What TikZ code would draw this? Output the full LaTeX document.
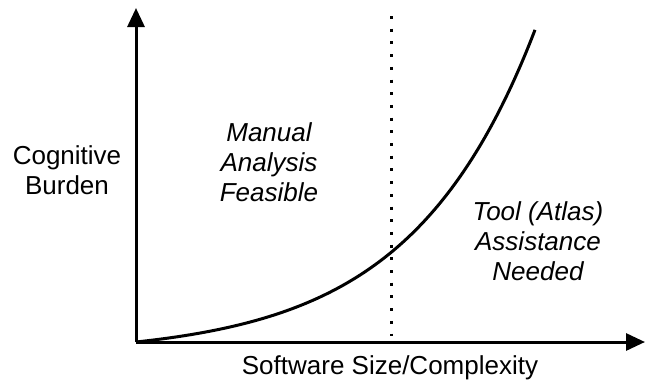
\documentclass[tikz,border=0pt]{standalone}
\usepackage{fontspec}
\setmainfont{Liberation Sans}
\usetikzlibrary{arrows.meta}
\begin{document}
\begin{tikzpicture}[x=1pt,y=-1pt,
  axis/.style={line width=3pt,-{Triangle[length=19pt,width=17pt]}},
  curveline/.style={line width=3pt},
  divider/.style={line width=3pt,dash pattern=on 3pt off 9.7pt},
  lbl/.style={font=\fontsize{26}{30}\selectfont,align=center,inner sep=0pt},
  ilbl/.style={lbl,font=\fontsize{26}{30}\selectfont\itshape}]
\useasboundingbox (0,0) rectangle (649,384);
\coordinate (O) at (136,342);
\coordinate (ytip) at (136,8);
\coordinate (xtip) at (645,342);
\coordinate (dtop) at (391,16);
\coordinate (dbot) at (391,336);
\draw[axis] (O) -- (ytip);
\draw[axis] (O) -- (xtip);
\draw[divider] (dtop) -- (dbot);
\draw[curveline] plot[domain=0:399,samples=120] ({136+\x},{342-13.4*(exp(0.008*\x)-1)});
\node[lbl] (ylabel) at (67,170.5) {Cognitive\\Burden};
\node[lbl,anchor=base] (xlabel) at (390,374) {Software Size/Complexity};
\node[ilbl] (manual) at (269,162.5) {Manual\\Analysis\\Feasible};
\node[ilbl] (tool) at (538,241) {Tool (Atlas)\\Assistance\\Needed};
\end{tikzpicture}
\end{document}
